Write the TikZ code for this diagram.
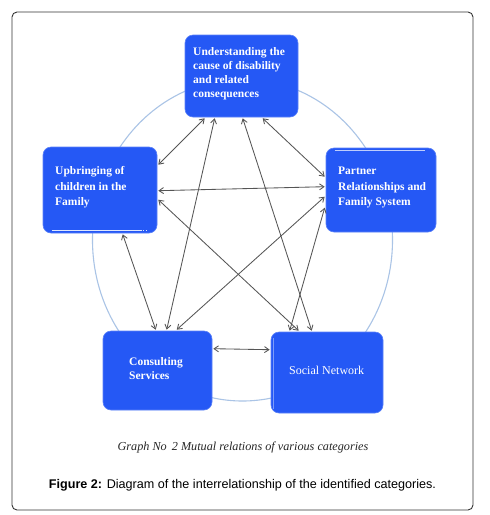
\documentclass[tikz,border=0pt]{standalone}
\usepackage{fontspec}
\setmainfont{Liberation Serif}
\newfontfamily\capsans{Liberation Sans}
\usetikzlibrary{arrows.meta,calc}
\definecolor{boxblue}{RGB}{37,88,245}
\definecolor{ringblue}{RGB}{170,196,230}
\definecolor{arrgray}{RGB}{85,85,85}
\begin{document}
\begin{tikzpicture}[x=1pt,y=-1pt,
  catbox/.style={draw=boxblue!75!white, fill=boxblue, rounded corners=8pt, line width=0.6pt, inner sep=0pt},
  cattext/.style={text=white, font=\fontsize{11.5}{14}\selectfont\bfseries, align=left, inner sep=0pt, anchor=west},
  link/.style={draw=arrgray, line width=0.85pt, {Straight Barb[length=4.5pt,width=6pt]}-{Straight Barb[length=4.5pt,width=6pt]}},
  ring/.style={draw=ringblue, line width=1.1pt},
  seam/.style={draw=white!85!boxblue, line width=0.8pt}]
\useasboundingbox (0,0) rectangle (490,515);
\fill[white] (0,0) rectangle (490,515);
% frame
\draw[draw=black!80, line width=0.9pt, rounded corners=5pt] (12,12) rectangle (473,510);
% ring
\draw[ring] (242.5,240) ellipse [x radius=150, y radius=161];
% boxes
\node[catbox, minimum width=113pt, minimum height=82pt] (top) at (241.5,76) {};
\node[catbox, minimum width=114pt, minimum height=86pt] (left) at (100,190) {};
\node[catbox, minimum width=110pt, minimum height=84pt] (right) at (381,190) {};
\node[catbox, minimum width=109pt, minimum height=79pt] (cons) at (157.5,370.5) {};
\node[catbox, minimum width=112pt, minimum height=81pt] (soc) at (327,372.5) {};
% seams
\draw[seam] ($(left.south west)+(9,-3)$) coordinate (ls1) -- ($(left.south west)+(99,-3)$) coordinate (ls2);
\draw[seam, dash pattern=on 1.5pt off 1.5pt] ($(left.south west)+(100,-3)$) coordinate (ls3) -- ($(left.south west)+(106,-3)$) coordinate (ls4);
\draw[seam, draw=white!70!boxblue] ($(right.north west)+(9,3)$) coordinate (rs1) -- ($(right.north west)+(99,3)$) coordinate (rs2);
\draw[draw=white!40!boxblue, line width=0.6pt] ($(soc.north west)+(3,6)$) coordinate (ss1) -- ($(soc.south west)+(3,-4)$) coordinate (ss2);
% texts
\node[cattext, font=\fontsize{11.5}{14}\selectfont\bfseries] (topT) at (193,74) {Understanding the\\cause of disability\\and related\\consequences};
\node[cattext, font=\fontsize{11.5}{15.5}\selectfont\bfseries] (leftT) at (55,187.5) {Upbringing of\\children in the\\Family};
\node[cattext, font=\fontsize{11.5}{15.5}\selectfont\bfseries] (rightT) at (338,187.5) {Partner\\Relationships and\\Family System};
\node[cattext, font=\fontsize{11.5}{14}\selectfont\bfseries] (consT) at (129,369) {Consulting\\Services};
\node[cattext, font=\fontsize{12}{14}\selectfont] (socT) at (289,370) {Social Network};
% connectors
\draw[link] ($(top.south west)+(20,1)$) -- ($(left.north east)+(1,18)$);
\draw[link] ($(top.south west)+(30,1)$) -- ($(cons.north west)+(64,-1)$);
\draw[link] ($(top.south west)+(58,1)$) -- ($(soc.north west)+(41,-1)$);
\draw[link] ($(top.south west)+(78,1)$) -- ($(right.north west)+(-1,29)$);
\draw[link] ($(left.north east)+(1,44)$) -- ($(right.north west)+(-1,39)$);
\draw[link] ($(left.north east)+(1,53)$) -- ($(soc.north west)+(28,-1)$);
\draw[link] ($(left.south west)+(80,1)$) -- ($(cons.north west)+(53,-1)$);
\draw[link] ($(right.north west)+(-1,49)$) -- ($(cons.north west)+(74,-1)$);
\draw[link] ($(right.north west)+(-1,60)$) -- ($(soc.north west)+(19,-1)$);
\draw[link] ($(cons.north east)+(1,18)$) -- ($(soc.north west)+(-1,18)$);
% captions
\node[font=\fontsize{12.2}{14}\selectfont\itshape, text=black!85] (graphcap) at (243,447) {Graph No\, 2 Mutual relations of various categories};
\node[font=\capsans\fontsize{12.6}{15}\selectfont] (figcap) at (242.5,485) {\textbf{Figure 2:} Diagram of the interrelationship of the identified categories.};
\end{tikzpicture}
\end{document}
